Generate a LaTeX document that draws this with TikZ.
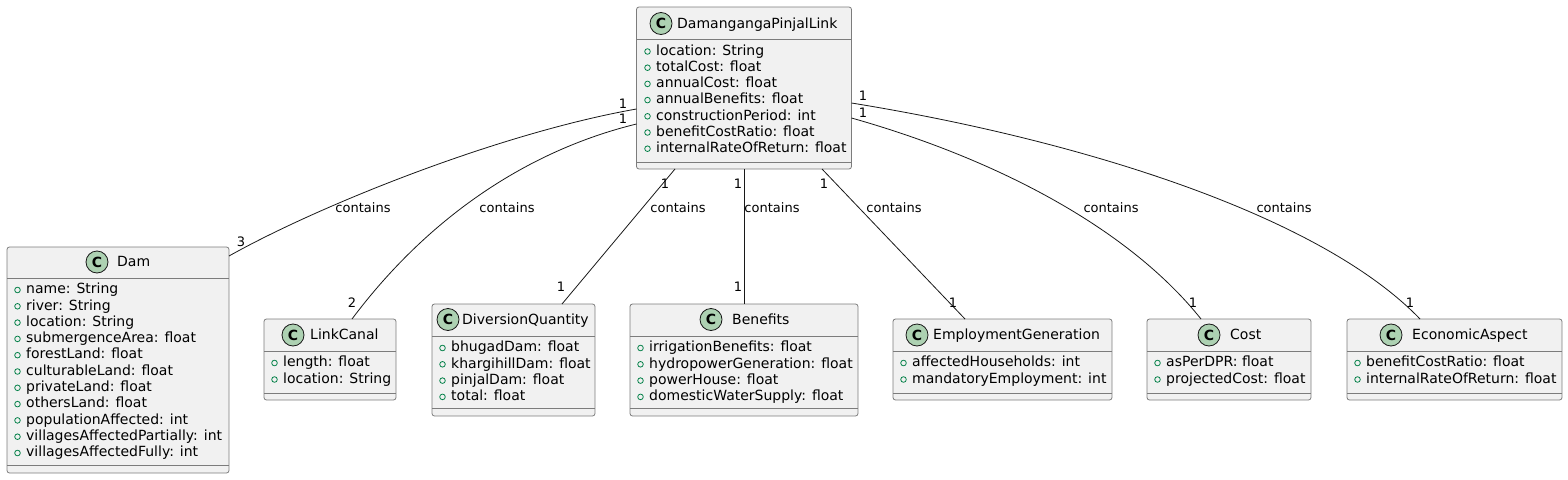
\documentclass[tikz,border=0pt]{standalone}
\usepackage{fontspec}
\setmainfont{DejaVu Sans}
\usepackage{tikz}
\usetikzlibrary{calc}
\definecolor{boxfill}{HTML}{F1F1F1}
\definecolor{boxline}{HTML}{7C7C7C}
\definecolor{edgeline}{HTML}{181818}
\definecolor{badgefill}{HTML}{ADD1B2}
\definecolor{pubgreen}{HTML}{038048}

\begin{document}
\begin{tikzpicture}[x=1pt,y=-1pt,
  box/.style={draw=boxline,fill=boxfill,rounded corners=2.5pt,line width=0.8pt,inner sep=0pt,outer sep=0pt},
  sep/.style={draw=boxline,line width=0.8pt},
  badge/.style={circle,draw=edgeline,fill=badgefill,line width=0.8pt,minimum size=22pt,inner sep=0pt,font=\fontsize{14}{16}\selectfont\bfseries},
  title/.style={anchor=west,inner sep=0pt,text height=10.5pt,text depth=3pt,font=\fontsize{14}{16}\selectfont},
  attr/.style={anchor=west,inner sep=0pt,text height=10.5pt,text depth=3pt,font=\fontsize{14}{16}\selectfont},
  pub/.style={draw=pubgreen,line width=0.8pt},
  assoc/.style={draw=edgeline,line width=0.8pt},
  mult/.style={inner sep=0pt,font=\fontsize{13}{15}\selectfont}]

\useasboundingbox (0,0) rectangle (1568,479);

\node[box,minimum width=215pt,minimum height=162pt] (link) at (744,88) {};
\draw[sep] ([yshift=-32pt]link.north west) -- ([yshift=-32pt]link.north east);
\draw[sep] ([yshift=7pt]link.south west) -- ([yshift=7pt]link.south east);
\node[badge] (linkC) at (661,23.5) {C};
\node[title] (linkT) at (677,24.5) {DamangangaPinjalLink};
\foreach \a [count=\i] in {location: String,totalCost: float,annualCost: float,annualBenefits: float,constructionPeriod: int,benefitCostRatio: float,internalRateOfReturn: float}{
  \draw[pub] (647.5,35.3+16.2*\i) circle (2.8pt);
  \node[attr] at (656,35.3+16.2*\i) {\a};
}

\node[box,minimum width=222pt,minimum height=226pt] (dam) at (118,360) {};
\draw[sep] ([yshift=-31.5pt]dam.north west) -- ([yshift=-31.5pt]dam.north east);
\draw[sep] ([yshift=8pt]dam.south west) -- ([yshift=8pt]dam.south east);
\node[badge] (damC) at (97,262) {C};
\node[title] (damT) at (117,263) {Dam};
\foreach \a [count=\i] in {name: String,river: String,location: String,submergenceArea: float,forestLand: float,culturableLand: float,privateLand: float,othersLand: float,populationAffected: int,villagesAffectedPartially: int,villagesAffectedFully: int}{
  \draw[pub] (17.5,273.7+16.3*\i) circle (2.8pt);
  \node[attr] at (26,273.7+16.3*\i) {\a};
}

\node[box,minimum width=132pt,minimum height=81pt] (canal) at (330,359.5) {};
\draw[sep] ([yshift=-32pt]canal.north west) -- ([yshift=-32pt]canal.north east);
\draw[sep] ([yshift=7pt]canal.south west) -- ([yshift=7pt]canal.south east);
\node[badge] (canalC) at (293,335) {C};
\node[title] (canalT) at (310,336) {LinkCanal};
\foreach \a [count=\i] in {length: float,location: String}{
  \draw[pub] (274.5,346.5+16.5*\i) circle (2.8pt);
  \node[attr] at (283,346.5+16.5*\i) {\a};
}

\node[box,minimum width=163pt,minimum height=112pt] (div) at (513.5,360) {};
\draw[sep] ([yshift=-32pt]div.north west) -- ([yshift=-32pt]div.north east);
\draw[sep] ([yshift=8pt]div.south west) -- ([yshift=8pt]div.south east);
\node[badge] (divC) at (448,319.5) {C};
\node[title] (divT) at (462,320.5) {DiversionQuantity};
\foreach \a [count=\i] in {bhugadDam: float,khargihillDam: float,pinjalDam: float,total: float}{
  \draw[pub] (442.5,331.7+16.3*\i) circle (2.8pt);
  \node[attr] at (451,331.7+16.3*\i) {\a};
}

\node[box,minimum width=228pt,minimum height=112pt] (ben) at (744,360) {};
\draw[sep] ([yshift=-32pt]ben.north west) -- ([yshift=-32pt]ben.north east);
\draw[sep] ([yshift=8pt]ben.south west) -- ([yshift=8pt]ben.south east);
\node[badge] (benC) at (711,319.5) {C};
\node[title] (benT) at (732,320.5) {Benefits};
\foreach \a [count=\i] in {irrigationBenefits: float,hydropowerGeneration: float,powerHouse: float,domesticWaterSupply: float}{
  \draw[pub] (640.5,331.7+16.3*\i) circle (2.8pt);
  \node[attr] at (649,331.7+16.3*\i) {\a};
}

\node[box,minimum width=219pt,minimum height=81pt] (emp) at (1002.5,359.5) {};
\draw[sep] ([yshift=-32pt]emp.north west) -- ([yshift=-32pt]emp.north east);
\draw[sep] ([yshift=7pt]emp.south west) -- ([yshift=7pt]emp.south east);
\node[badge] (empC) at (917,335) {C};
\node[title] (empT) at (933,336) {EmploymentGeneration};
\foreach \a [count=\i] in {affectedHouseholds: int,mandatoryEmployment: int}{
  \draw[pub] (903.5,346.5+16.5*\i) circle (2.8pt);
  \node[attr] at (912,346.5+16.5*\i) {\a};
}

\node[box,minimum width=164pt,minimum height=81pt] (cost) at (1229,359.5) {};
\draw[sep] ([yshift=-32pt]cost.north west) -- ([yshift=-32pt]cost.north east);
\draw[sep] ([yshift=7pt]cost.south west) -- ([yshift=7pt]cost.south east);
\node[badge] (costC) at (1209,335) {C};
\node[title] (costT) at (1230,336) {Cost};
\foreach \a [count=\i] in {asPerDPR: float,projectedCost: float}{
  \draw[pub] (1157.5,346.5+16.5*\i) circle (2.8pt);
  \node[attr] at (1166,346.5+16.5*\i) {\a};
}

\node[box,minimum width=215pt,minimum height=81pt] (eco) at (1454.5,359.5) {};
\draw[sep] ([yshift=-32pt]eco.north west) -- ([yshift=-32pt]eco.north east);
\draw[sep] ([yshift=7pt]eco.south west) -- ([yshift=7pt]eco.south east);
\node[badge] (ecoC) at (1391,335) {C};
\node[title] (ecoT) at (1412,336) {EconomicAspect};
\foreach \a [count=\i] in {benefitCostRatio: float,internalRateOfReturn: float}{
  \draw[pub] (1357.5,346.5+16.5*\i) circle (2.8pt);
  \node[attr] at (1366,346.5+16.5*\i) {\a};
}

\draw[assoc] ([yshift=-21pt]link.west) .. controls (500,133) and (320,205) .. ([yshift=-9pt]dam.north east);
\draw[assoc] ([yshift=-36pt]link.west) .. controls (530,150) and (430,215) .. ([xshift=22pt]canal.north);
\draw[assoc] ([xshift=-69pt]link.south) -- ([xshift=48.5pt]div.north);
\draw[assoc] (link.south) -- (ben.north);
\draw[assoc] ([xshift=78pt]link.south) -- ([xshift=-37.5pt]emp.north);
\draw[assoc] ([yshift=-30pt]link.east) .. controls (1000,160) and (1130,230) .. ([xshift=-28pt]cost.north);
\draw[assoc] ([yshift=-15pt]link.east) .. controls (1080,140) and (1320,215) .. ([xshift=-34.5pt]eco.north);

\node[mult] at (623,103.5) {1};
\node[mult] at (623,119) {1};
\node[mult] at (863,96) {1};
\node[mult] at (863,112.5) {1};
\node[mult] at (665,184) {1};
\node[mult] at (738,184) {1};
\node[mult] at (824,184) {1};
\node[mult] at (241,242) {3};
\node[mult] at (352,303) {2};
\node[mult] at (561,287) {1};
\node[mult] at (738,287) {1};
\node[mult] at (953,303) {1};
\node[mult] at (1193,303) {1};
\node[mult] at (1410,303) {1};
\node[mult] at (363,207.5) {contains};
\node[mult] at (507,207.5) {contains};
\node[mult] at (678,207.5) {contains};
\node[mult] at (772,207.5) {contains};
\node[mult] at (894,207.5) {contains};
\node[mult] at (1111,207.5) {contains};
\node[mult] at (1284,207.5) {contains};
\end{tikzpicture}
\end{document}
